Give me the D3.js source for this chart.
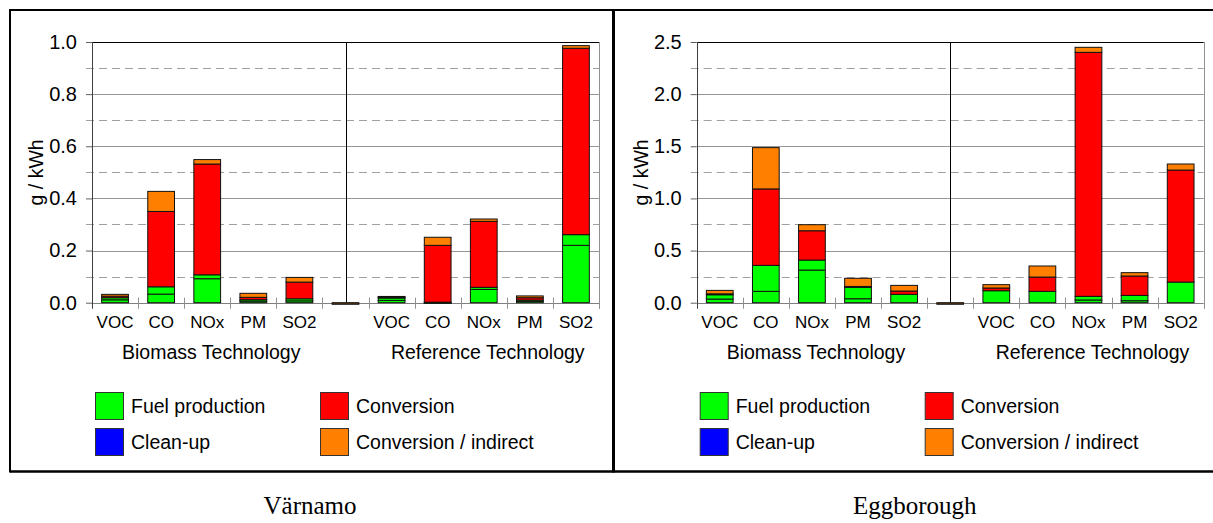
<!DOCTYPE html>
<html><head><meta charset="utf-8">
<script src="https://cdn.jsdelivr.net/npm/d3@7"></script>
<style>body{margin:0;background:#fff}svg{display:block}</style>
</head><body>
<svg id="c" width="1213" height="523"></svg>
<script>
// ---------- data ----------
const categories = ["VOC","CO","NOx","PM","SO2","","VOC","CO","NOx","PM","SO2"];
const groupLabels = ["Biomass Technology","Reference Technology"];
const panelTitles = ["Värnamo","Eggborough"];
const yLabel = "g / kWh";
const seriesKeys = ["fuelA","fuelB","cleanup","conversion","indirect","offset"];
const legendLabels = ["Fuel production","Conversion","Clean-up","Conversion / indirect"];

const varnamoFuelA      = [0.011,0.033,0.092,0.006,0.007, 0,     0.009,0.001,0.051,0.005,0.220];
const varnamoFuelB      = [0.008,0.028,0.015,0.0055,0.008,0,     0.009,0.001,0.008,0.005,0.041];
const varnamoCleanup    = [0,0,0,0,0, 0, 0,0,0,0,0];
const varnamoConversion = [0.006,0.289,0.425,0.009,0.064, 0,     0.004,0.218,0.253,0.009,0.715];
const varnamoIndirect   = [0.007,0.077,0.017,0.0155,0.018,0,     0.002,0.031,0.009,0.007,0.010];
const varnamoOffset     = [0,0,0,0,0, -0.006, 0,0,0,0,0];

const eggFuelA      = [0.035,0.109,0.313,0.038,0.080, 0,  0.115,0.109,0.026,0.019,0.198];
const eggFuelB      = [0.042,0.249,0.096,0.112,0,     0,  0,    0,    0.035,0.051,0];
const eggCleanup    = [0,0,0,0,0, 0, 0,0,0,0,0];
const eggConversion = [0.008,0.733,0.281,0.006,0.032, 0,  0.026,0.137,2.340,0.186,1.074];
const eggIndirect   = [0.033,0.396,0.058,0.078,0.054, 0,  0.032,0.106,0.048,0.032,0.058];
const eggOffset     = [0,0,0,0,0, -0.015, 0,0,0,0,0];

const varnamoTicks = [0,0.2,0.4,0.6,0.8,1.0];
const varnamoMinor = [0.1,0.3,0.5,0.7,0.9];
const eggTicks = [0,0.5,1.0,1.5,2.0,2.5];
const eggMinor = [0.25,0.75,1.25,1.75,2.25];

// ---------- styles ----------
const colors = {fuelA:"#00ff00", fuelB:"#00ff00", cleanup:"#0000ff", conversion:"#ff0000", indirect:"#ff8000", offset:"#6b3d12"};
const legendColors = ["#00ff00","#ff0000","#0000ff","#ff8000"];
const FONT = "'Liberation Sans', Arial, sans-serif";

function rows(fa,fb,cu,cv,ind,off){
  return categories.map((c,i)=>({i, fuelA:fa[i], fuelB:fb[i], cleanup:cu[i], conversion:cv[i], indirect:ind[i], offset:off[i]}));
}

const panels = [
  {ox:0, yMax:1.0, ticks:varnamoTicks, minor:varnamoMinor, title:panelTitles[0],
   data:rows(varnamoFuelA,varnamoFuelB,varnamoCleanup,varnamoConversion,varnamoIndirect,varnamoOffset)},
  {ox:604.7, yMax:2.5, ticks:eggTicks, minor:eggMinor, title:panelTitles[1],
   data:rows(eggFuelA,eggFuelB,eggCleanup,eggConversion,eggIndirect,eggOffset)}
];

const svg = d3.select("#c");

// outer frame
const frame = svg.append("g").attr("fill","none").attr("stroke","#000");
frame.append("line").attr("x1",10).attr("x2",1213).attr("y1",10).attr("y2",10).attr("stroke-width",2);
frame.append("line").attr("x1",10).attr("x2",1213).attr("y1",471.5).attr("y2",471.5).attr("stroke-width",2.5);
frame.append("line").attr("x1",10).attr("x2",10).attr("y1",9).attr("y2",472.5).attr("stroke-width",2);
frame.append("line").attr("x1",613.5).attr("x2",613.5).attr("y1",9).attr("y2",472.5).attr("stroke-width",3);

const stack = d3.stack().keys(seriesKeys).offset(d3.stackOffsetDiverging);

panels.forEach(p=>{
  const x0 = 92 + p.ox, x1 = 599 + p.ox;
  const yTop = 42, yBot = 302.7;
  const x = d3.scaleBand().domain(d3.range(categories.length)).range([x0,x1]).paddingInner(0.42).paddingOuter(0.21);
  const y = d3.scaleLinear().domain([0,p.yMax]).range([yBot,yTop]);
  const g = svg.append("g");

  // minor dashed gridlines
  g.selectAll(".mn").data(p.minor).join("line")
    .attr("x1",x0-6).attr("x2",x1).attr("y1",d=>Math.round(y(d))+0.5).attr("y2",d=>Math.round(y(d))+0.5)
    .attr("stroke","#a0a0a0").attr("stroke-dasharray","8,5");
  // major gridlines
  g.selectAll(".mj").data(p.ticks).join("line")
    .attr("x1",x0).attr("x2",x1).attr("y1",d=>Math.round(y(d))+0.5).attr("y2",d=>Math.round(y(d))+0.5)
    .attr("stroke",d=> d===p.yMax ? "#000" : (d===0 ? "#808080" : "#959595"));

  // x boundary ticks
  const bounds = d3.range(categories.length+1).map(k=>x.range()[0] + k*x.step());
  g.selectAll(".xt").data(bounds).join("line")
    .attr("x1",d=>Math.round(d)+0.5).attr("x2",d=>Math.round(d)+0.5)
    .attr("y1",yBot-5).attr("y2",yBot+6).attr("stroke","#909090");

  // right border
  g.append("line").attr("x1",Math.round(x1)+0.5).attr("x2",Math.round(x1)+0.5).attr("y1",yTop).attr("y2",yBot+6).attr("stroke","#909090");
  // separator between groups
  const sepX = x(5) + x.bandwidth()/2;
  g.append("line").attr("x1",Math.round(sepX)+0.5).attr("x2",Math.round(sepX)+0.5).attr("y1",yTop).attr("y2",yBot).attr("stroke","#000");

  // bars
  const series = stack(p.data);
  g.append("g").selectAll("g").data(series).join("g")
    .attr("fill",s=>colors[s.key])
    .selectAll("rect").data(s=>s.filter(d=>Math.abs(d[1]-d[0])>1e-9)).join("rect")
      .attr("x",d=>x(d.data.i))
      .attr("width",x.bandwidth())
      .attr("y",d=>y(Math.max(d[0],d[1])))
      .attr("height",d=>Math.max(1,Math.abs(y(d[0])-y(d[1]))))
      .attr("stroke","#111").attr("stroke-width",1);

  // y axis
  const ya = d3.axisLeft(y).tickValues(p.ticks).tickFormat(d3.format(".1f")).tickSize(6).tickPadding(9);
  const yg = g.append("g").attr("transform",`translate(${x0},0)`).call(ya);
  yg.select(".domain").remove();
  yg.selectAll(".tick line").attr("stroke","#606060");
  yg.selectAll("text").attr("fill","#000").style("font-family",FONT).style("font-size","20px");
  g.append("line").attr("x1",Math.round(x0)+0.5).attr("x2",Math.round(x0)+0.5).attr("y1",yTop).attr("y2",yBot+6).attr("stroke","#404040");

  // x axis labels
  const xa = d3.axisBottom(x).tickFormat(i=>categories[i]).tickSize(0).tickPadding(13);
  const xg = g.append("g").attr("transform",`translate(0,${yBot})`).call(xa);
  xg.select(".domain").remove();
  xg.selectAll("text").attr("fill","#000").style("font-family",FONT).style("font-size","17px");

  // group labels
  const gc = [ (x(0)+x(4)+x.bandwidth())/2, (x(6)+x(10)+x.bandwidth())/2 ];
  g.selectAll(".gl").data(groupLabels).join("text")
    .attr("x",(d,i)=>gc[i]+4).attr("y",359).attr("text-anchor","middle")
    .style("font-family",FONT).style("font-size","19.5px").attr("fill","#000").text(d=>d);

  // y title
  g.append("text").attr("transform",`translate(${x0-56},${(yTop+yBot)/2}) rotate(-90)`)
    .attr("text-anchor","middle").attr("dy","0.35em")
    .style("font-family",FONT).style("font-size","19.5px").attr("fill","#000").text(yLabel);

  // legend
  const lg = g.append("g");
  const pos = [[95+p.ox,392],[320+p.ox,392],[95+p.ox,428],[320+p.ox,428]];
  legendLabels.forEach((lab,k)=>{
    lg.append("rect").attr("x",pos[k][0]+0.5).attr("y",pos[k][1]+0.5).attr("width",28).attr("height",27)
      .attr("fill",legendColors[k]).attr("stroke","#333");
    lg.append("text").attr("x",pos[k][0]+36).attr("y",pos[k][1]+14).attr("dy","0.35em")
      .style("font-family",FONT).style("font-size","19.5px").attr("fill","#000").text(lab);
  });

  // caption
  svg.append("text").attr("x",310+p.ox).attr("y",514).attr("text-anchor","middle")
    .style("font-family","'Liberation Serif','Times New Roman',serif").style("font-size","25px")
    .attr("fill","#000").text(p.title);
});
</script></body></html>
